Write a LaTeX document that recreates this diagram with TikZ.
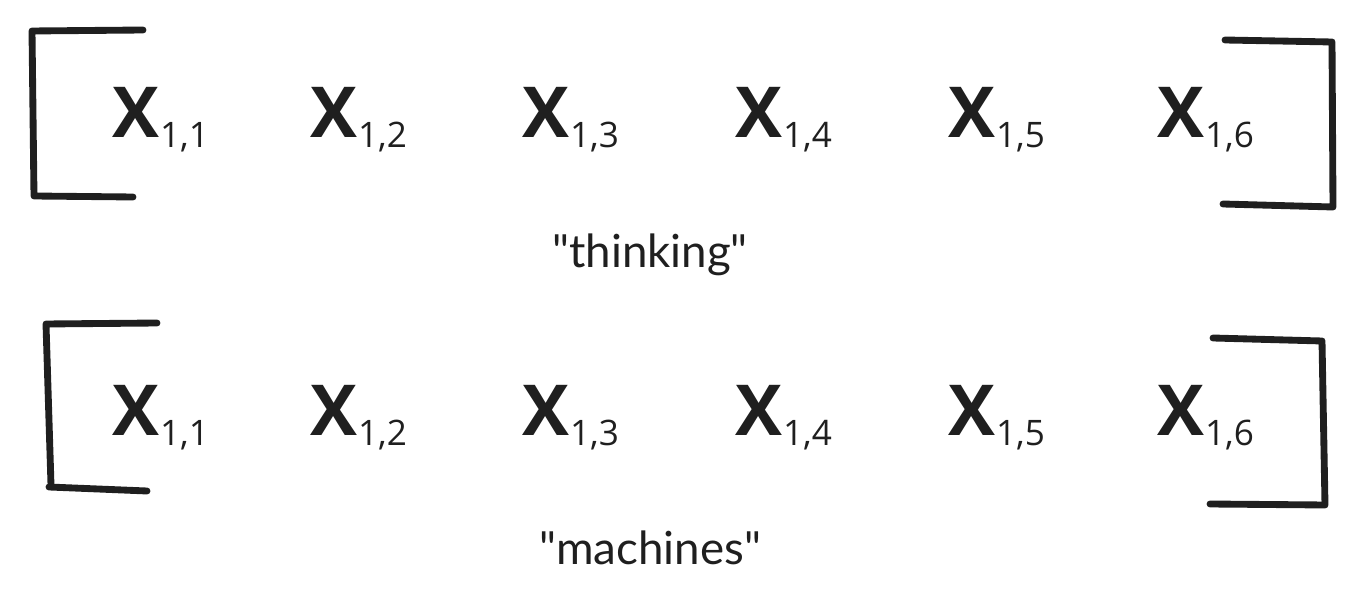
\documentclass[tikz,border=0pt]{standalone}
\usepackage{fontspec}
\setmainfont{Open Sans}
\newfontfamily\wordfont{Lato}
\usepackage{tikz}
\usetikzlibrary{positioning}

% one entry: big X with its index
\newcommand{\xent}[2]{{\fontsize{40}{44}\selectfont\bfseries X}\kern0.5pt\raisebox{-5.5pt}{\fontsize{20}{22}\selectfont #1,#2}}

\begin{document}
\begin{tikzpicture}[x=0.02cm, y=-0.02cm,
  brk/.style={line width=3.9pt, line cap=round, line join=round, black!88},
  ent/.style={anchor=base west, inner sep=0pt, black!88},
  word/.style={anchor=base, inner sep=0pt, black!88, font=\wordfont\fontsize{26}{28}\selectfont}]
\useasboundingbox (0,0) rectangle (1363,614);
% top row
\foreach \n/\x in {1/112, 2/310, 3/522, 4/735, 5/948, 6/1157}
  \node[ent] (t\n) at (\x,138) {\xent{1}{\n}};
\draw[brk] (143,30) -- (32,31) -- (34,196) -- (133,197);
\draw[brk] (1225,40) -- (1332,42) -- (1333,207) -- (1223,204);
\node[word] (think) at (650,268) {"thinking"};
% bottom row
\foreach \n/\x in {1/112, 2/310, 3/522, 4/735, 5/948, 6/1157}
  \node[ent] (b\n) at (\x,436) {\xent{1}{\n}};
\draw[brk] (157,323) -- (46,324) -- (51,485);
\draw[brk] (49,487) -- (147,491);
\draw[brk] (1213,338) -- (1322,341) -- (1325,505) -- (1210,504);
\node[word] (mach) at (650,565) {"machines"};
\end{tikzpicture}
\end{document}
